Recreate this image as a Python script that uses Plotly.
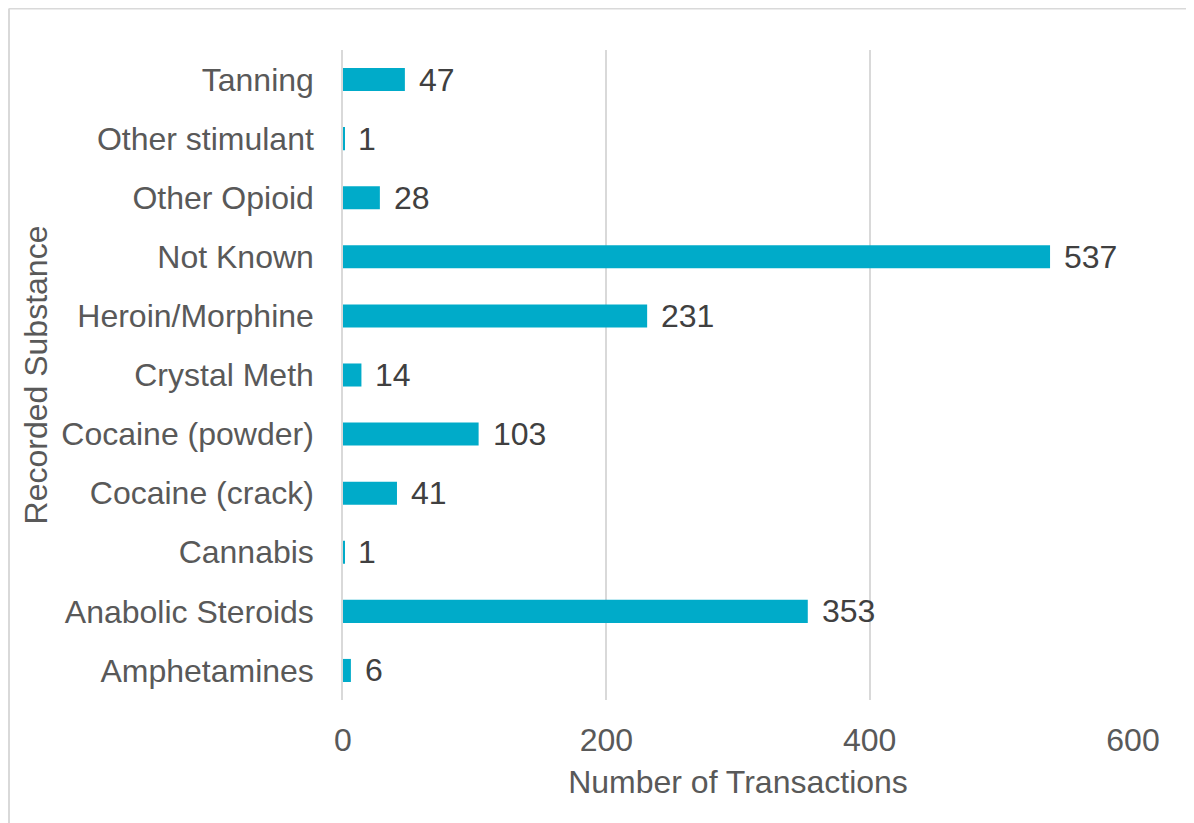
import plotly.graph_objects as go

categories = ["Amphetamines", "Anabolic Steroids", "Cannabis", "Cocaine (crack)",
              "Cocaine (powder)", "Crystal Meth", "Heroin/Morphine", "Not Known",
              "Other Opioid", "Other stimulant", "Tanning"]
values = [6, 353, 1, 41, 103, 14, 231, 537, 28, 1, 47]
x_ticks = [0, 200, 400, 600]

FONT = "Liberation Sans, Arial, sans-serif"
FS = 32
BAR = "#00ABC9"
GRID = "#D9D9D9"

# figure is placed at (8, 8) in the page because of the default body margin
W, H = 1186, 815
L, T, R, B = 335, 42, 61, 123
PW, PH = W - L - R, H - T - B

fig = go.Figure()
fig.add_trace(go.Bar(
    y=categories, x=values, orientation="h",
    marker=dict(color=BAR, line=dict(width=0)),
    showlegend=False, hoverinfo="x+y",
))

for c, v in zip(categories, values):
    fig.add_annotation(x=v, y=c, xref="x", yref="y", text=str(v), showarrow=False,
                       xanchor="left", yanchor="middle", xshift=12,
                       font=dict(family=FONT, size=FS, color="#404040"))

# chart border (top and left edges)
bx = (1 - L) / PW
by = 1 + (T - 0.5) / PH
fig.add_shape(type="line", xref="paper", yref="paper",
              x0=bx, x1=(W + 20 - L) / PW, y0=by, y1=by,
              line=dict(color=GRID, width=2))
fig.add_shape(type="line", xref="paper", yref="paper",
              x0=bx, x1=bx, y0=by, y1=-(B + 20) / PH,
              line=dict(color=GRID, width=2))

fig.update_layout(
    width=W, height=H,
    margin=dict(l=L, r=R, t=T, b=B),
    paper_bgcolor="white", plot_bgcolor="white",
    bargap=0.61,
    font=dict(family=FONT, size=FS, color="#595959"),
    xaxis=dict(
        range=[0, 600], tickvals=x_ticks, ticktext=[str(t) for t in x_ticks],
        showgrid=True, gridcolor=GRID, gridwidth=1.5,
        zeroline=False, showline=False,
        ticks="", ticklabelstandoff=18,
        tickfont=dict(family=FONT, size=FS, color="#595959"),
        title=dict(text="Number of Transactions", standoff=13,
                   font=dict(family=FONT, size=FS, color="#595959")),
        fixedrange=True,
    ),
    yaxis=dict(
        categoryorder="array", categoryarray=categories,
        range=[-0.5, len(categories) - 0.5],
        showline=True, linecolor=GRID, linewidth=1.5,
        showgrid=False, zeroline=False,
        ticks="", ticklabelstandoff=21,
        tickfont=dict(family=FONT, size=FS, color="#595959"),
        title=dict(text="Recorded Substance", standoff=4,
                   font=dict(family=FONT, size=FS, color="#595959")),
        fixedrange=True,
    ),
)

fig.write_html("out.html", config={"displayModeBar": False})
